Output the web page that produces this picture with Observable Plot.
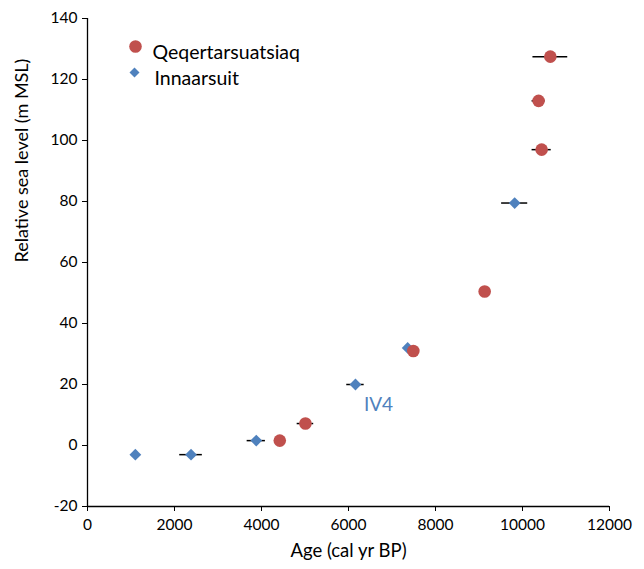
<!DOCTYPE html>
<html><head><meta charset="utf-8">
<script src="https://cdn.jsdelivr.net/npm/d3@7"></script>
<script src="https://cdn.jsdelivr.net/npm/@observablehq/plot@0.6"></script>
<style>
body{margin:0;background:#fff;}
#chart{width:644px;height:569px;}
svg{font-family:"Lato","Open Sans",sans-serif;}
</style></head><body><div id="chart"></div>
<script>
const qAge = [4420, 5010, 7490, 9130, 10440, 10370, 10640];
const qRsl = [1.6, 7.2, 31, 50.5, 97, 113, 127.5];
const qErr = [0, 190, 0, 0, 220, 150, 400];
const iAge = [1100, 2380, 3880, 6160, 7360, 9820];
const iRsl = [-3, -3, 1.6, 20, 32, 79.5];
const iErr = [0, 260, 210, 200, 0, 300];
const xTicks = [0, 2000, 4000, 6000, 8000, 10000, 12000];
const yTicks = [-20, 0, 20, 40, 60, 80, 100, 120, 140];
const seriesNames = ["Qeqertarsuatsiaq", "Innaarsuit"];
const RED = "#C0504D", BLUE = "#4F81BD";

const q = qAge.map((a, i) => ({age: a, rsl: qRsl[i], err: qErr[i]}));
const inn = iAge.map((a, i) => ({age: a, rsl: iRsl[i], err: iErr[i]}));

const chart = Plot.plot({
  width: 644, height: 569,
  marginLeft: 87, marginRight: 35, marginTop: 18, marginBottom: 63,
  style: {fontFamily: "Lato, 'Open Sans', sans-serif", fontSize: "15px", color: "#000"},
  x: {domain: [0, 12000], ticks: xTicks, tickFormat: d => String(d), label: null},
  y: {domain: [-20, 140], ticks: yTicks, tickFormat: d => String(d), label: null},
  marks: [
    Plot.axisX({ticks: xTicks, tickFormat: d => String(d), tickSize: 5, tickPadding: 7, fontSize: 15.5, label: null}),
    Plot.axisY({ticks: yTicks, tickFormat: d => String(d), tickSize: 5, tickPadding: 5, fontSize: 15.5, label: null}),
    Plot.ruleX([0], {stroke: "#000", strokeWidth: 1.3}),
    Plot.ruleY([-20], {stroke: "#000", strokeWidth: 1.3}),
    Plot.ruleY(inn.filter(d => d.err > 0), {x1: d => d.age - d.err, x2: d => d.age + d.err, y: "rsl", stroke: "#000", strokeWidth: 1.5}),
    Plot.ruleY(q.filter(d => d.err > 0), {x1: d => d.age - d.err, x2: d => d.age + d.err, y: "rsl", stroke: "#000", strokeWidth: 1.5}),
    Plot.dot(inn, {x: "age", y: "rsl", symbol: "diamond2", r: 5.3, fill: BLUE}),
    Plot.dot(q, {x: "age", y: "rsl", symbol: "circle", r: 6.3, fill: RED}),
    Plot.text(["IV4"], {x: 6690, y: 13.4, text: d => d, fill: BLUE, fontSize: 19}),
    // legend
    Plot.dot([seriesNames[0]], {frameAnchor: "top-left", dx: 48, dy: 28, symbol: "circle", r: 6.3, fill: RED}),
    Plot.dot([seriesNames[1]], {frameAnchor: "top-left", dx: 47, dy: 54, symbol: "diamond2", r: 4.5, fill: BLUE}),
    Plot.text([seriesNames[0]], {frameAnchor: "top-left", dx: 65, dy: 27, text: d => d, textAnchor: "start", fontSize: 19.5, fill: "#000"}),
    Plot.text([seriesNames[1]], {frameAnchor: "top-left", dx: 67, dy: 53, text: d => d, textAnchor: "start", fontSize: 19.5, fill: "#000"}),
    // axis titles
    Plot.text(["Age (cal yr BP)"], {frameAnchor: "bottom", dy: 50, text: d => d, fontSize: 18.5, fill: "#000"}),
    Plot.text(["Relative sea level (m MSL)"], {frameAnchor: "left", dx: -65, rotate: -90, text: d => d, fontSize: 18, fill: "#000"})
  ]
});
document.getElementById("chart").appendChild(chart);
</script></body></html>
